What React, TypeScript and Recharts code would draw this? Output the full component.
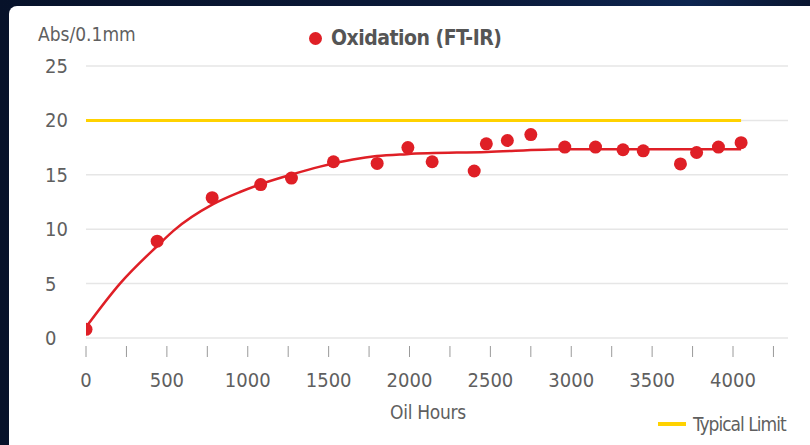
import React from "react";
import { ComposedChart, XAxis, YAxis, CartesianGrid, Line, Scatter } from "recharts";

const hours = [0, 440, 780, 1080, 1270, 1530, 1800, 1990, 2140, 2400, 2475, 2605, 2750, 2960, 3150, 3320, 3445, 3675, 3775, 3910, 4050];
const oxidation = [0.8, 8.9, 12.9, 14.1, 14.7, 16.2, 16.05, 17.5, 16.2, 15.35, 17.85, 18.15, 18.7, 17.55, 17.55, 17.3, 17.2, 16.0, 17.05, 17.55, 17.95];

const fitHours = [0, 210, 447, 540, 783, 952, 1076, 1261, 1447, 1650, 1797, 1983, 2478, 2961, 4050];
const fitValues = [1.0, 5.0, 8.55, 9.85, 12.28, 13.42, 14.12, 14.98, 15.75, 16.4, 16.72, 16.9, 17.1, 17.35, 17.35];

const limitHours = [0, 4050];
const limitValues = [20, 20];

const xTicks = [0, 250, 500, 750, 1000, 1250, 1500, 1750, 2000, 2250, 2500, 2750, 3000, 3250, 3500, 3750, 4000, 4250];
const yTicks = [0, 5, 10, 15, 20, 25];

const points = hours.map((x, i) => ({ x, y: oxidation[i] }));
const fitData = fitHours.map((x, i) => ({ x, y: fitValues[i] }));
const limitData = limitHours.map((x, i) => ({ x, y: limitValues[i] }));

const FONT = '"DejaVu Sans Condensed", "DejaVu Sans", sans-serif';
const TEXT = "#5f5f5f";
const RED = "#df1f26";
const YELLOW = "#ffd200";

const XTick = (props: any) => {
  const { x, y, payload } = props;
  const show = payload.value % 500 === 0;
  return (
    <g>
      <line x1={x} x2={x} y1={y + 8} y2={y + 19} stroke="#9a9a9a" strokeWidth={1} />
      {show && (
        <text x={x} y={y + 49} textAnchor="middle" fill={TEXT} fontSize={20} fontFamily={FONT}>
          {payload.value}
        </text>
      )}
    </g>
  );
};

const YTick = (props: any) => {
  const { y, payload } = props;
  return (
    <text x={45} y={y + 7} textAnchor="start" fill={TEXT} fontSize={20} fontFamily={FONT}>
      {payload.value}
    </text>
  );
};

const Dot = (props: any) => <circle cx={props.cx} cy={props.cy} r={6.5} fill={RED} />;

export default function App() {
  return (
    <div
      style={{
        position: "fixed",
        left: 0,
        top: 0,
        width: 810,
        height: 445,
        overflow: "hidden",
        background: "linear-gradient(90deg, #07122a 0%, #0b1a3a 60%, #0d2550 85%, #0a1630 100%)",
      }}
    >
      <div
        style={{
          position: "absolute",
          left: 9,
          top: 6,
          width: 801,
          height: 439,
          background: "#ffffff",
          borderTopLeftRadius: 8,
        }}
      />
      <div style={{ position: "absolute", left: 0, top: 0 }}>
        <ComposedChart
          width={810}
          height={445}
          margin={{ top: 66, right: 22, bottom: 47, left: 0 }}
        >
          <CartesianGrid horizontal vertical={false} stroke="#e6e6e6" strokeWidth={1.5} />
          <XAxis
            type="number"
            dataKey="x"
            domain={[0, 4340]}
            ticks={xTicks}
            interval={0}
            axisLine={false}
            tickLine={false}
            tickSize={0}
            tickMargin={0}
            height={60}
            tick={<XTick />}
            allowDataOverflow
          />
          <YAxis
            type="number"
            dataKey="y"
            domain={[0, 25]}
            ticks={yTicks}
            interval={0}
            axisLine={false}
            tickLine={false}
            width={86}
            tick={<YTick />}
          />
          <Line
            data={limitData}
            dataKey="y"
            type="linear"
            stroke={YELLOW}
            strokeWidth={3}
            dot={false}
            activeDot={false}
            isAnimationActive={false}
          />
          <Line
            data={fitData}
            dataKey="y"
            type="monotone"
            stroke={RED}
            strokeWidth={2.5}
            dot={false}
            activeDot={false}
            isAnimationActive={false}
          />
          <Scatter data={points} dataKey="y" fill={RED} shape={<Dot />} isAnimationActive={false} />
        </ComposedChart>
      </div>
      <div
        style={{
          position: "absolute",
          left: 38,
          top: 22,
          fontFamily: FONT,
          fontSize: 19,
          color: TEXT,
          lineHeight: "24px",
        }}
      >
        Abs/0.1mm
      </div>
      <div
        style={{
          position: "absolute",
          left: 309,
          top: 25,
          display: "flex",
          alignItems: "center",
          fontFamily: FONT,
          fontSize: 21,
          fontWeight: "bold",
          letterSpacing: -0.5,
          color: "#555555",
          lineHeight: "26px",
        }}
      >
        <span
          style={{
            display: "inline-block",
            width: 13,
            height: 13,
            borderRadius: "50%",
            background: RED,
            marginRight: 9,
          }}
        />
        Oxidation (FT-IR)
      </div>
      <div
        style={{
          position: "absolute",
          left: 0,
          width: 856,
          textAlign: "center",
          top: 400,
          fontFamily: FONT,
          fontSize: 19,
          letterSpacing: -0.3,
          color: TEXT,
          lineHeight: "24px",
        }}
      >
        Oil Hours
      </div>
      <div
        style={{
          position: "absolute",
          left: 658,
          top: 412,
          display: "flex",
          alignItems: "center",
          fontFamily: FONT,
          fontSize: 19,
          letterSpacing: -1,
          color: TEXT,
          lineHeight: "24px",
        }}
      >
        <span
          style={{ display: "inline-block", width: 28, height: 4, background: YELLOW, marginRight: 7 }}
        />
        Typical Limit
      </div>
    </div>
  );
}
